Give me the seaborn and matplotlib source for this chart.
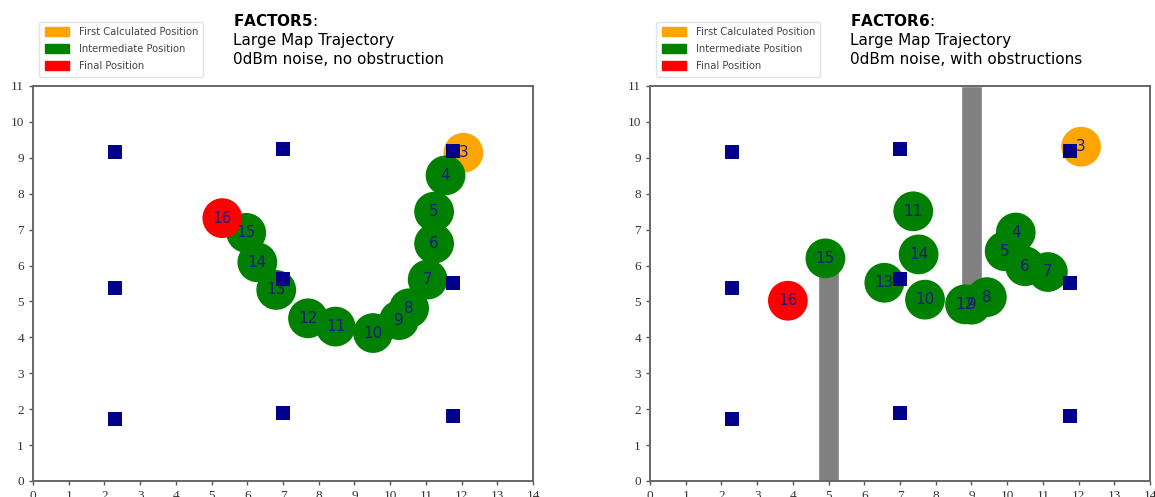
import matplotlib
matplotlib.use("Agg")
import matplotlib.pyplot as plt
from matplotlib.patches import Patch
import seaborn as sns
import pandas as pd

# Anchor (beacon) positions shared by both maps
anchor_x = [2.3, 7.0, 11.75, 2.3, 7.0, 11.75, 2.3, 7.0, 11.75]
anchor_y = [9.15, 9.25, 9.2, 5.37, 5.63, 5.5, 1.73, 1.88, 1.8]

# Trajectory steps (first = step 3, last = step 16)
steps = [3, 4, 5, 6, 7, 8, 9, 10, 11, 12, 13, 14, 15, 16]

f5_x = [12.05, 11.55, 11.23, 11.23, 11.05, 10.53, 10.25, 9.52, 8.47, 7.70, 6.81, 6.28, 5.97, 5.30]
f5_y = [9.14, 8.51, 7.50, 6.61, 5.61, 4.81, 4.48, 4.12, 4.30, 4.53, 5.32, 6.09, 6.91, 7.32]

f6_x = [12.07, 10.24, 9.93, 10.50, 11.14, 9.43, 9.00, 7.70, 7.37, 8.82, 6.56, 7.52, 4.91, 3.86]
f6_y = [9.31, 6.92, 6.40, 5.98, 5.82, 5.12, 4.91, 5.05, 7.51, 4.92, 5.52, 6.31, 6.20, 5.02]

# Obstacles: centre x, bottom, height
wall_x = [5.0, 9.0]
wall_bottom = [0.0, 5.0]
wall_height = [6.0, 6.0]
wall_width = 0.6

legend_labels = ["First Calculated Position", "Intermediate Position", "Final Position"]
kind_colors = {"first": "orange", "mid": "green", "final": "red"}

sns.set_style("white")
plt.rcParams["font.family"] = ["Liberation Serif", "DejaVu Serif"]
plt.rcParams["mathtext.fontset"] = "dejavusans"

fig = plt.figure(figsize=(11.55, 4.97), dpi=100)
ax1 = fig.add_axes([0.0286, 0.0322, 0.4329, 0.7948])
ax2 = fig.add_axes([0.5628, 0.0322, 0.4329, 0.7948])


def traj_frame(xs, ys):
    kinds = ["first"] + ["mid"] * (len(xs) - 2) + ["final"]
    return pd.DataFrame({"step": steps, "x": xs, "y": ys, "kind": kinds})


def draw_map(ax, xs, ys, title, walls):
    if walls:
        ax.bar(wall_x, wall_height, width=wall_width, bottom=wall_bottom,
               color="gray", zorder=1)
    df = traj_frame(xs, ys)
    sns.scatterplot(data=df, x="x", y="y", hue="kind", palette=kind_colors,
                    s=820, linewidth=0, legend=False, ax=ax, zorder=2)
    sns.scatterplot(x=anchor_x, y=anchor_y, marker="s", s=115,
                    color="#00008b", linewidth=0, ax=ax, zorder=3)
    for st, x, y in zip(df["step"], df["x"], df["y"]):
        ax.text(x, y, str(st), ha="center", va="center", fontsize=11,
                color="#1a1a80", family="DejaVu Sans", zorder=4)

    ax.set_xlim(0, 14)
    ax.set_ylim(0, 11)
    ax.set_xticks(range(0, 15))
    ax.set_yticks(range(0, 12))
    ax.set_xlabel("")
    ax.set_ylabel("")
    ax.tick_params(axis="both", direction="out", length=3, width=1,
                   color="#555555", labelsize=9.5, labelcolor="#333333",
                   bottom=True, left=True, pad=3.5)
    for sp in ax.spines.values():
        sp.set_color("#666666")
        sp.set_linewidth(1.4)

    handles = [Patch(color=c) for c in kind_colors.values()]
    ax.legend(handles, legend_labels, loc="upper left",
              bbox_to_anchor=(0.012, 1.163), borderaxespad=0,
              prop={"family": "DejaVu Sans", "size": 7.2},
              labelcolor="#444444", handlelength=2.4, handleheight=1.0,
              labelspacing=0.7, frameon=True, edgecolor="#dddddd",
              borderpad=0.55, handletextpad=1.0)

    ax.text(0.40, 1.185, title, transform=ax.transAxes, ha="left", va="top",
            fontsize=11, family="DejaVu Sans", linespacing=1.32,
            color="black")


draw_map(ax1, f5_x, f5_y,
         "$\\mathbf{FACTOR5}$:\nLarge Map Trajectory\n0dBm noise, no obstruction",
         walls=False)
draw_map(ax2, f6_x, f6_y,
         "$\\mathbf{FACTOR6}$:\nLarge Map Trajectory\n0dBm noise, with obstructions",
         walls=True)

fig.savefig("out.png", dpi=100)
